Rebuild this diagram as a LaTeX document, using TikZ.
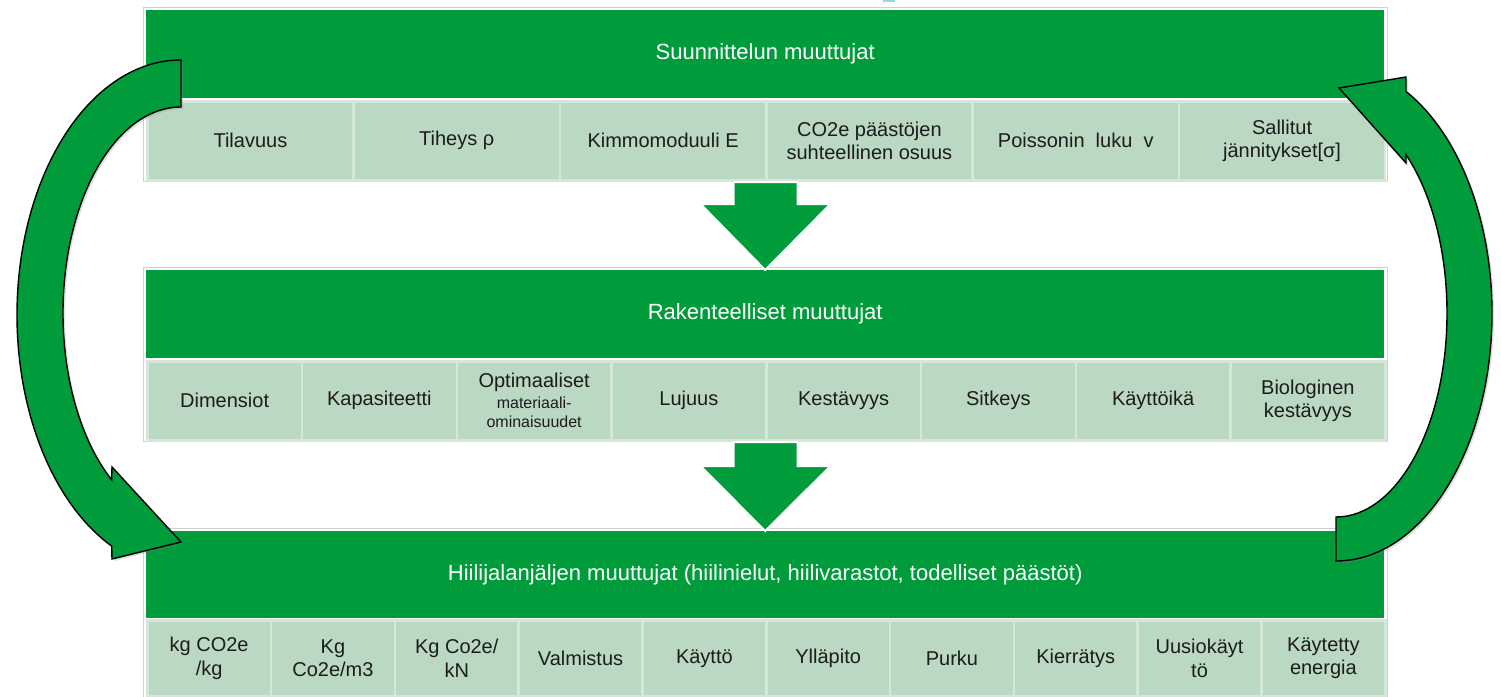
\documentclass[tikz,border=0pt]{standalone}
\usepackage{fontspec}
\setmainfont{Liberation Sans}
\usetikzlibrary{calc,shadows}
\definecolor{hdrgreen}{RGB}{0,156,59}
\definecolor{cellgreen}{RGB}{187,216,194}
\definecolor{cellline}{RGB}{212,231,216}
\definecolor{framegray}{RGB}{208,208,208}
\definecolor{inktext}{RGB}{28,28,28}
\definecolor{tickblue}{RGB}{150,212,232}
\begin{document}
\begin{tikzpicture}[x=1pt,y=-1pt,
  frame/.style={draw=framegray, line width=1pt, fill=white, inner sep=0,
    anchor=north west, minimum width=1244pt},
  header/.style={fill=hdrgreen, text=white, inner sep=0, anchor=north west,
    minimum width=1238pt, minimum height=88pt,
    font=\fontsize{22}{26}\selectfont},
  cell/.style={fill=cellgreen, draw=cellline, line width=2.5pt, text=inktext,
    inner sep=0, anchor=north west, align=center,
    font=\fontsize{20}{23.5}\selectfont},
  downarrow/.style={fill=hdrgreen, draw=white, line width=2pt, line join=miter},
  looparrow/.style={fill=hdrgreen, draw=black, line width=1.4pt, line join=miter,
    drop shadow={shadow xshift=2pt, shadow yshift=-2pt, opacity=0.25}}]
\clip (0,0) rectangle (1501,696);
\fill[white] (0,0) rectangle (1501,696);
\fill[tickblue] (883,0) rectangle (895,1.6);

% --- Design variables ---
\node[frame, minimum height=174pt] (f1) at (143,7) {};
\node[header] (h1) at (146,10) {Suunnittelun muuttujat};
\foreach \t [count=\i from 0] in {Tilavuus, {Tiheys ρ}, {Kimmomoduuli E},
    {CO2e päästöjen\\suhteellinen osuus}, {Poissonin \ luku \ v},
    {Sallitut\\jännitykset[σ]}}
  \node[cell, minimum width=206.33pt, minimum height=79pt] (a\i)
    at (146+\i*206.33, 100) {\t};

% --- Structural variables ---
\node[frame, minimum height=174pt] (f2) at (143,267) {};
\node[header] (h2) at (146,270) {Rakenteelliset muuttujat};
\foreach \t [count=\i from 0] in {Dimensiot, Kapasiteetti,
    {Optimaaliset\\[-3pt]{\fontsize{16}{18}\selectfont materiaali-}\\[-4pt]{\fontsize{16}{18}\selectfont ominaisuudet}},
    Lujuus, Kestävyys, Sitkeys, Käyttöikä, {Biologinen\\kestävyys}}
  \node[cell, minimum width=154.75pt, minimum height=79pt] (b\i)
    at (146+\i*154.75, 360) {\t};

% --- Carbon footprint variables ---
\node[frame, minimum height=200pt] (f3) at (143,528) {};
\node[header, minimum height=87pt] (h3) at (146,531)
  {Hiilijalanjäljen muuttujat (hiilinielut, hiilivarastot, todelliset päästöt)};
\foreach \t [count=\i from 0] in {{kg CO2e\\/kg}, {Kg\\Co2e/m3},
    {Kg Co2e/\\kN}, Valmistus, Käyttö, Ylläpito, Purku, Kierrätys,
    {Uusiokäyt\\tö}, {Käytetty\\energia}}
  \node[cell, minimum width=123.8pt, minimum height=76pt] (c\i)
    at (146+\i*123.8, 619) {\t};

% --- Block arrows between the levels ---
\draw[downarrow] ($(f1.south)+(-32,0)$) -- ($(f1.south)+(32,0)$)
  -- ($(f1.south)+(32,22)$) -- ($(f1.south)+(65,22)$) -- (h2.north)
  -- ($(f1.south)+(-65,22)$) -- ($(f1.south)+(-32,22)$) -- cycle;
\draw[downarrow] ($(f2.south)+(-32,0)$) -- ($(f2.south)+(32,0)$)
  -- ($(f2.south)+(32,24)$) -- ($(f2.south)+(65,24)$) -- (h3.north)
  -- ($(f2.south)+(-65,24)$) -- ($(f2.south)+(-32,24)$) -- cycle;

% --- Feedback loop arrows ---
\coordinate (Ltail) at (181,60);
\coordinate (Ltip) at (181,542);
\draw[looparrow] (Ltail) .. controls (90.4,60) and (17,174.2) .. (17,315)
  .. controls (17,414.1) and (53.9,504.2) .. (111.7,546.1)
  -- (112,559) -- (Ltip) -- (112,467) -- (111.6,479.7)
  .. controls (81.0,440.9) and (63,378.9) .. (63,313)
  .. controls (63,199.2) and (115.8,107) .. (181,107) -- cycle;

\coordinate (Rtail) at (1336,561);
\coordinate (Rtip) at (1339,88);
\draw[looparrow] (Rtail) .. controls (1422.2,561) and (1492,450) .. (1492,313)
  .. controls (1492,219.2) and (1458.7,133.6) .. (1406,91.5)
  -- (1406,77) -- (Rtip) -- (1406,163) -- (1406,154.7)
  .. controls (1431.9,193.4) and (1447,251.6) .. (1447,313)
  .. controls (1447,425.7) and (1397.3,517) .. (1336,517) -- cycle;
\end{tikzpicture}
\end{document}
